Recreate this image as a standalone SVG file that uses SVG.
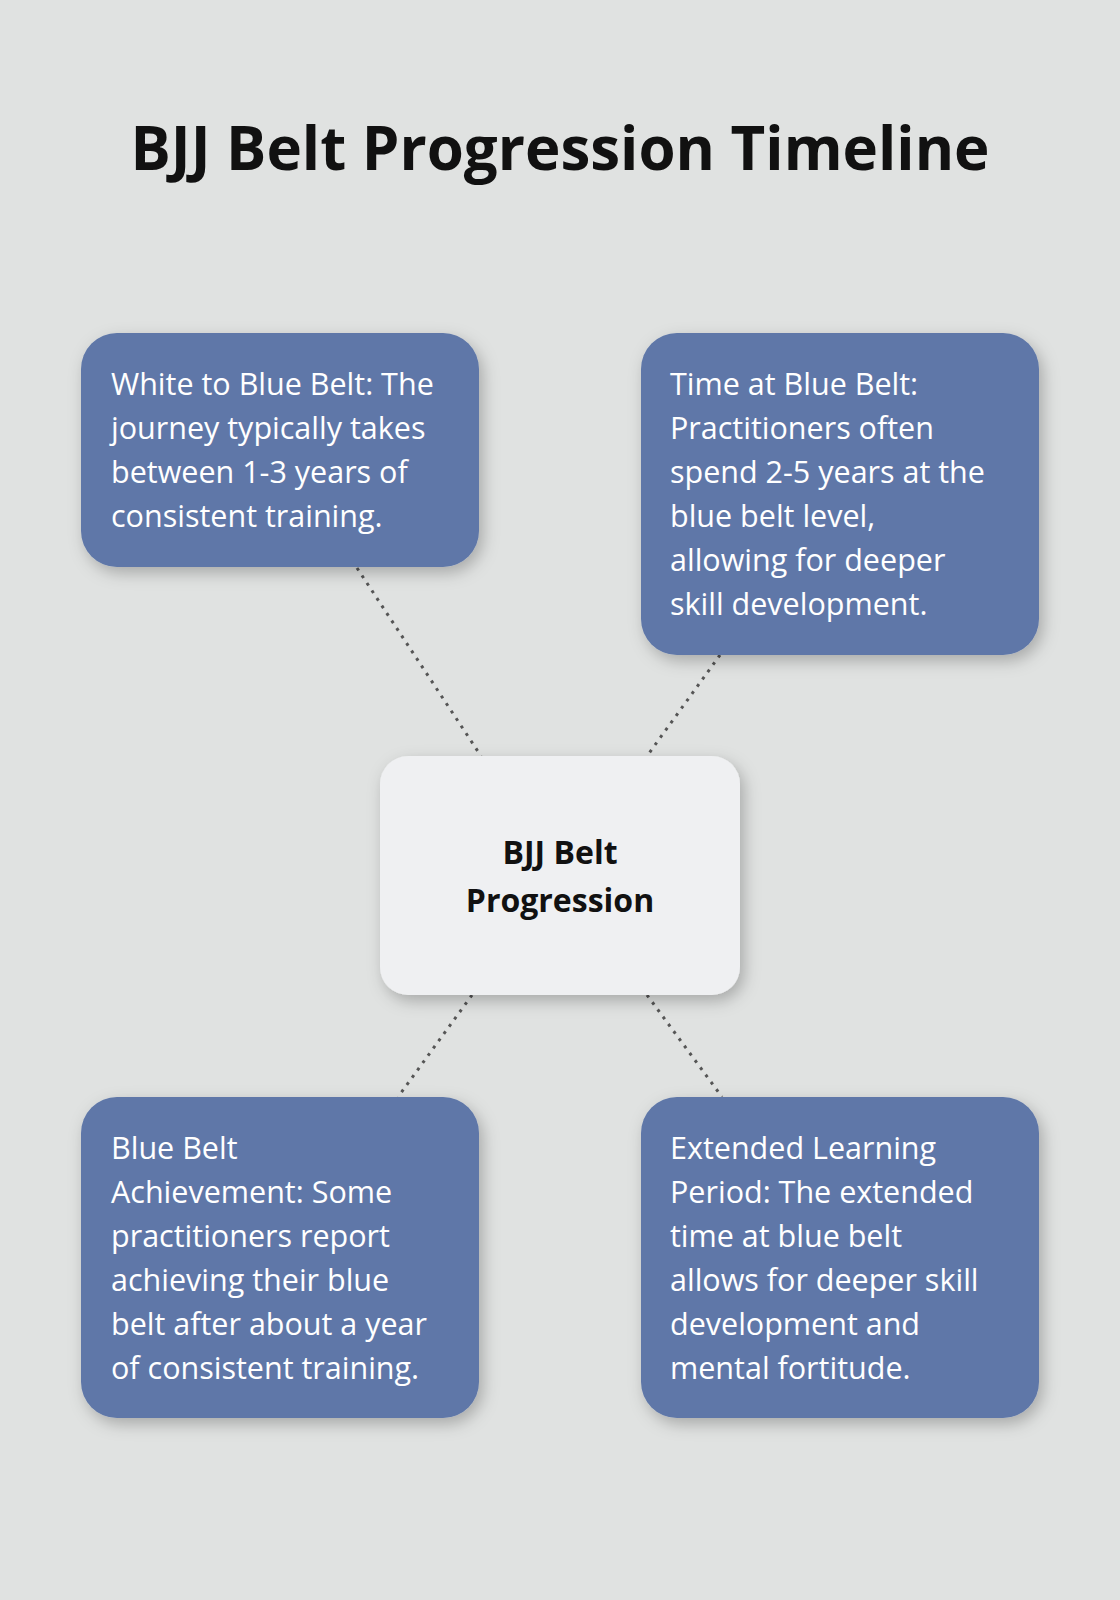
<svg xmlns="http://www.w3.org/2000/svg" width="1120" height="1600" viewBox="0 0 1120 1600">
<defs>
<filter id="sh" x="-20%" y="-20%" width="140%" height="140%"><feDropShadow dx="4" dy="6" stdDeviation="8" flood-color="#000" flood-opacity="0.25"/></filter>
<style>
.box{fill:#5E77A8;filter:url(#sh)}
.t{font-family:"Open Sans",sans-serif;font-size:30.5px;fill:#fff}
.c{font-family:"Open Sans",sans-serif;font-size:32px;font-weight:bold;fill:#111;text-anchor:middle}
.ln{stroke:#555;stroke-width:3;stroke-dasharray:3 6;fill:none}
</style>
</defs>
<rect width="1120" height="1600" fill="#E0E2E1"/>
<text x="560" y="170" font-family="'Open Sans',sans-serif" font-size="60" font-weight="bold" fill="#111" text-anchor="middle">BJJ Belt Progression Timeline</text>
<g id="connectors">
<line class="ln" x1="357" y1="568" x2="481" y2="756"/>
<line class="ln" x1="720" y1="655" x2="647" y2="756"/>
<line class="ln" x1="472" y1="995" x2="398" y2="1097"/>
<line class="ln" x1="647" y1="995" x2="722" y2="1097"/>
</g>
<g id="n1"><rect class="box" x="81" y="333" width="398" height="234" rx="36"/>
<text class="t" x="111"><tspan x="111" y="395">White to Blue Belt: The</tspan><tspan x="111" y="439">journey typically takes</tspan><tspan x="111" y="483">between 1-3 years of</tspan><tspan x="111" y="527">consistent training.</tspan></text></g>
<g id="n2"><rect class="box" x="641" y="333" width="398" height="322" rx="36"/>
<text class="t"><tspan x="670" y="395">Time at Blue Belt:</tspan><tspan x="670" y="439">Practitioners often</tspan><tspan x="670" y="483">spend 2-5 years at the</tspan><tspan x="670" y="527">blue belt level,</tspan><tspan x="670" y="571">allowing for deeper</tspan><tspan x="670" y="615">skill development.</tspan></text></g>
<g id="center"><rect x="380" y="756" width="360" height="239" rx="28" fill="#EFF0F2" filter="url(#sh)"/>
<text class="c"><tspan x="560" y="864">BJJ Belt</tspan><tspan x="560" y="912">Progression</tspan></text></g>
<g id="n3"><rect class="box" x="81" y="1097" width="398" height="321" rx="36"/>
<text class="t"><tspan x="111" y="1159">Blue Belt</tspan><tspan x="111" y="1203">Achievement: Some</tspan><tspan x="111" y="1247">practitioners report</tspan><tspan x="111" y="1291">achieving their blue</tspan><tspan x="111" y="1335">belt after about a year</tspan><tspan x="111" y="1379">of consistent training.</tspan></text></g>
<g id="n4"><rect class="box" x="641" y="1097" width="398" height="321" rx="36"/>
<text class="t"><tspan x="670" y="1159">Extended Learning</tspan><tspan x="670" y="1203">Period: The extended</tspan><tspan x="670" y="1247">time at blue belt</tspan><tspan x="670" y="1291">allows for deeper skill</tspan><tspan x="670" y="1335">development and</tspan><tspan x="670" y="1379">mental fortitude.</tspan></text></g>
</svg>
